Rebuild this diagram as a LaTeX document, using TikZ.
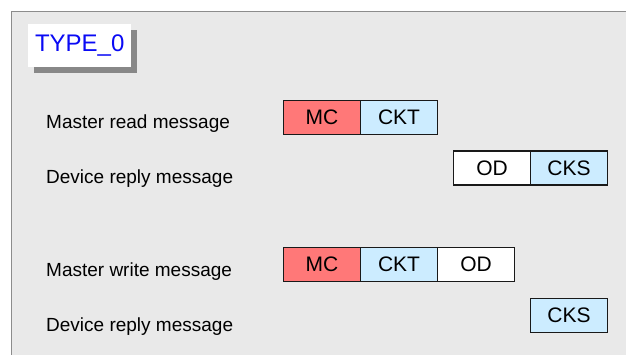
\documentclass[tikz,border=0pt]{standalone}
\usepackage{fontspec}
\setmainfont{Liberation Sans}
\definecolor{panelbg}{HTML}{E9E9E9}
\definecolor{panelline}{HTML}{8C8C8C}
\definecolor{shadowgray}{HTML}{888888}
\definecolor{mcred}{HTML}{FF7878}
\definecolor{ckblue}{HTML}{CCECFF}
\definecolor{titleblue}{HTML}{0A0AF5}
\begin{document}
\begin{tikzpicture}[x=1pt,y=-1pt,
  field/.style={draw=black!90, line width=1.4pt, rectangle, inner sep=0pt,
    minimum width=77pt, minimum height=34pt, font=\fontsize{21}{24}\selectfont},
  mcfield/.style={field, fill=mcred},
  ckfield/.style={field, fill=ckblue},
  odfield/.style={field, fill=white},
  msglabel/.style={anchor=base west, inner sep=0pt, font=\fontsize{19}{22}\selectfont}]
\useasboundingbox (0,0) rectangle (626,354);
\clip (0,0) rectangle (626,354);
\fill[white] (0,0) rectangle (626,354);
% panel
\fill[panelbg] (11.5,11.5) rectangle (640,370);
\draw[panelline, line width=1.8pt] (11.5,370) -- (11.5,11.5) -- (640,11.5);
% title
\fill[shadowgray] (34,30) rectangle (137,72.5);
\node[fill=white, inner sep=0pt, minimum width=103pt, minimum height=43pt,
  anchor=north west, text=titleblue, font=\fontsize{24}{28}\selectfont] (title) at (28,24) {TYPE\_0};
% labels
\node[msglabel] (l1) at (46,128.3) {Master read message};
\node[msglabel] (l2) at (46,183.3) {Device reply message};
\node[msglabel] (l3) at (46,276) {Master write message};
\node[msglabel] (l4) at (46,331.7) {Device reply message};
% row 1
\node[mcfield] (r1mc) at (322,117.5) {MC};
\node[ckfield] (r1ckt) at (399,117.5) {CKT};
% row 2
\node[odfield] (r2od) at (492,168) {OD};
\node[ckfield] (r2cks) at (569,168) {CKS};
% row 3
\node[mcfield] (r3mc) at (322,264.5) {MC};
\node[ckfield] (r3ckt) at (399,264.5) {CKT};
\node[odfield] (r3od) at (476,264.5) {OD};
% row 4
\node[ckfield] (r4cks) at (569,315.3) {CKS};
\end{tikzpicture}
\end{document}
